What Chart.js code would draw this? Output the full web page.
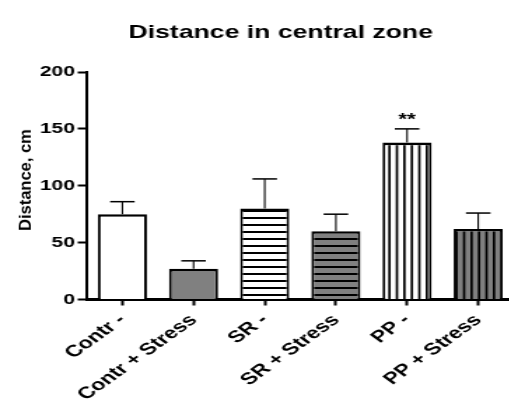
<!DOCTYPE html>
<html>
<head>
<meta charset="utf-8">
<script src="https://cdn.jsdelivr.net/npm/chart.js@4/dist/chart.umd.min.js"></script>
<style>
  html, body { margin: 0; padding: 0; overflow: hidden; background: #fff; width: 509px; height: 407px; }
  #wrap { position: absolute; left: 0; top: 0; width: 401px; height: 407px; transform: scaleX(1.4); transform-origin: 0 0; }
  #ytitle { position: absolute; left: 25px; top: 180px; transform: translate(-50%, -50%) rotate(-90deg);
            font: bold 16.5px 'Liberation Sans', Arial, sans-serif; line-height: 1; white-space: nowrap; color: #000; }
</style>
</head>
<body>
<div id="wrap"><canvas id="chart" width="401" height="407" style="width:401px;height:407px"></canvas></div>
<div id="ytitle">Distance, cm</div>
<script>
const categories = ['Contr -', 'Contr + Stress', 'SR -', 'SR + Stress', 'PP -', 'PP + Stress'];
const means = [75, 27, 80, 60, 138, 62];
const sems = [11, 7, 26, 15, 12, 14];
const marks = ['', '', '', '', '**', ''];
const yTicks = [0, 50, 100, 150, 200];

const FONT = "'Liberation Sans', Arial, sans-serif";

// fills: plain, gray, horizontal stripes, vertical stripes
function stripes(dir, bg) {
    const c = document.createElement('canvas');
    const ctx = c.getContext('2d');
    if (dir === 'h') {
        c.width = 8; c.height = 7;
        ctx.fillStyle = bg; ctx.fillRect(0, 0, 8, 7);
        ctx.fillStyle = '#000'; ctx.fillRect(0, 0, 8, 2);
    } else {
        c.width = 16; c.height = 8;
        ctx.fillStyle = bg; ctx.fillRect(0, 0, 16, 8);
        ctx.fillStyle = '#000';
        [0, 5.33, 10.67].forEach(x => ctx.fillRect(x, 0, 1.7, 8));
    }
    return ctx.createPattern(c, 'repeat');
}
const GRAY = '#808080';
const fills = ['#ffffff', GRAY, stripes('h', '#fff'), stripes('h', GRAY), stripes('v', '#fff'), stripes('v', GRAY)];

const errorBars = {
    id: 'errorBars',
    afterDatasetsDraw(chart) {
        const ctx = chart.ctx;
        const y = chart.scales.y;
        const meta = chart.getDatasetMeta(0);
        ctx.save();
        ctx.strokeStyle = '#000';
        meta.data.forEach((bar, i) => {
            const top = y.getPixelForValue(means[i] + sems[i]);
            const half = bar.width / 4;
            ctx.lineWidth = 1.1;
            ctx.beginPath();
            ctx.moveTo(bar.x, bar.y);
            ctx.lineTo(bar.x, top);
            ctx.stroke();
            ctx.lineWidth = 1.5;
            ctx.beginPath();
            ctx.moveTo(bar.x - half, top);
            ctx.lineTo(bar.x + half, top);
            ctx.stroke();
            if (marks[i]) {
                ctx.fillStyle = '#000';
                ctx.font = 'bold 16px ' + FONT;
                ctx.textAlign = 'center';
                ctx.textBaseline = 'alphabetic';
                ctx.fillText(marks[i], bar.x, top - 4);
            }
        });
        ctx.restore();
    }
};

new Chart(document.getElementById('chart').getContext('2d'), {
    type: 'bar',
    data: {
        labels: categories,
        datasets: [{
            data: means,
            backgroundColor: fills,
            borderColor: '#000',
            borderWidth: { top: 2.6, left: 2, right: 2, bottom: 0 },
            barPercentage: 0.69,
            categoryPercentage: 1
        }]
    },
    options: {
        responsive: false,
        animation: false,
        devicePixelRatio: 1,
        layout: { padding: 0 },
        plugins: {
            legend: { display: false },
            tooltip: { enabled: false },
            title: {
                display: true,
                text: 'Distance in central zone',
                color: '#000',
                font: { family: FONT, size: 19, weight: 'bold' },
                padding: { top: 21.6, bottom: 27.6 }
            }
        },
        scales: {
            x: {
                grid: { drawOnChartArea: false, offset: false, tickLength: 6, tickWidth: 2, tickColor: '#000' },
                border: { color: '#000', width: 3 },
                ticks: { color: '#000', font: { family: FONT, size: 16.5, weight: 'bold' }, maxRotation: 45, minRotation: 45, autoSkip: false, padding: 5 },
                afterFit: s => { s.height = 107.5; }
            },
            y: {
                min: 0,
                max: 200,
                afterBuildTicks: s => { s.ticks = yTicks.map(v => ({ value: v })); },
                grid: { drawOnChartArea: false, tickLength: 6.5, tickWidth: 2, tickColor: '#000' },
                border: { color: '#000', width: 2 },
                ticks: { color: '#000', font: { family: FONT, size: 15, weight: 'bold' }, padding: 2 },
                afterFit: s => { s.width = 62; }
            },
            // empty right-hand space so the title is centred like the original
            pad: {
                type: 'linear',
                position: 'right',
                ticks: { display: false },
                grid: { display: false },
                border: { display: false },
                afterFit: s => { s.width = 34; }
            }
        }
    },
    plugins: [errorBars]
});
</script>
</body>
</html>
